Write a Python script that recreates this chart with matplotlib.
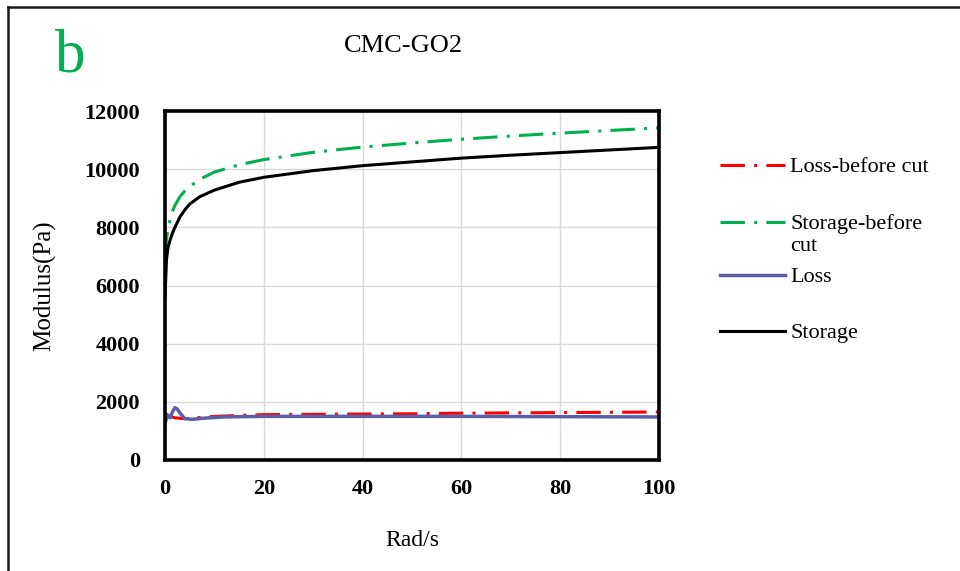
import matplotlib.pyplot as plt
from matplotlib.lines import Line2D

plt.rcParams["font.family"] = ["Liberation Serif", "DejaVu Serif"]

# angular frequency (rad/s) and moduli (Pa)
x_storage = [0, 0.3, 0.6, 1, 1.5, 2, 3, 4, 5, 7, 10, 15, 20, 30, 40, 50, 60, 70, 80, 90, 100]
storage = [5600, 6900, 7300, 7550, 7800, 8000, 8350, 8600, 8800, 9050, 9280, 9550, 9720,
           9950, 10120, 10250, 10380, 10480, 10570, 10660, 10750]

x_storage_bc = [0, 0.3, 0.6, 1, 1.5, 2, 3, 4, 5, 7, 10, 15, 20, 30, 40, 50, 60, 70, 80, 90, 100]
storage_bc = [7000, 7600, 7950, 8250, 8550, 8750, 9050, 9250, 9400, 9650, 9900, 10150, 10330,
              10580, 10760, 10900, 11030, 11140, 11240, 11330, 11420]

x_loss = [0, 0.5, 1, 1.5, 2, 2.5, 3, 4, 5.5, 8, 12, 20, 30, 40, 50, 60, 70, 80, 90, 100]
loss = [1250, 1550, 1450, 1650, 1800, 1750, 1620, 1420, 1400, 1440, 1480, 1500, 1500, 1500,
        1500, 1500, 1495, 1490, 1485, 1480]

x_loss_bc = [0, 1, 2, 4, 6, 10, 20, 30, 40, 50, 60, 70, 80, 90, 100]
loss_bc = [1600, 1500, 1450, 1420, 1450, 1500, 1560, 1570, 1580, 1590, 1610, 1620, 1630, 1640, 1650]

labels = ["Loss-before cut", "Storage-before\ncut", "Loss", "Storage"]
yticks = [0, 2000, 4000, 6000, 8000, 10000, 12000]
xticks = [0, 20, 40, 60, 80, 100]

dashdot = (0, (8, 3, 1, 3))
styles = [
    dict(color="#ff0000", lw=2.2, linestyle=dashdot),
    dict(color="#00b050", lw=2.2, linestyle=dashdot),
    dict(color="#5b5fa7", lw=2.5, linestyle="-"),
    dict(color="black", lw=2.2, linestyle="-"),
]

fig = plt.figure(figsize=(9.6, 5.71), dpi=100)
ax = fig.add_axes([0.1719, 0.1944, 0.5146, 0.6112])

series = [(x_loss_bc, loss_bc), (x_storage_bc, storage_bc), (x_loss, loss), (x_storage, storage)]
for (xs, ys), st in zip(series, styles):
    ax.plot(xs, ys, **st)

ax.set_xlim(0, 100)
ax.set_ylim(0, 12000)
ax.set_xticks(xticks)
ax.set_yticks(yticks)
ax.grid(True, color="#d9d9d9", lw=1)
ax.set_axisbelow(True)
ax.tick_params(axis="y", length=0, labelsize=16, pad=18)
ax.tick_params(axis="x", length=0, labelsize=16, pad=14)
for lab in ax.get_xticklabels() + ax.get_yticklabels():
    lab.set_fontweight("bold")
for sp in ax.spines.values():
    sp.set_linewidth(2.6)

ax.set_xlabel("Rad/s", fontsize=17, labelpad=22)
ax.set_ylabel("Modulus(Pa)", fontsize=18, labelpad=20)

fig.text(0.42, 0.92, "CMC-GO2", fontsize=19, ha="center", va="center")
fig.text(0.073, 0.90, "b", fontsize=44, color="#00b050", ha="center", va="center")

# legend drawn entry by entry so the two-line label keeps its handle on the first line
legend_y = [1 - 165 / 571, 1 - 222 / 571, 1 - 275 / 571, 1 - 331 / 571]
for st, lab, y in zip(styles, labels, legend_y):
    fig.add_artist(Line2D([0.750, 0.818], [y, y], transform=fig.transFigure, **st))
    fig.text(0.823, y + 0.013, lab, fontsize=16, ha="left", va="top", linespacing=1.15)

# outer panel frame
fig.add_artist(Line2D([0.0085, 1.0], [0.988, 0.988], color="#1a1a1a", lw=1.8,
                      transform=fig.transFigure))
fig.add_artist(Line2D([0.0085, 0.0085], [0.0, 0.988], color="#1a1a1a", lw=1.8,
                      transform=fig.transFigure))

fig.savefig("out.png", dpi=100)
